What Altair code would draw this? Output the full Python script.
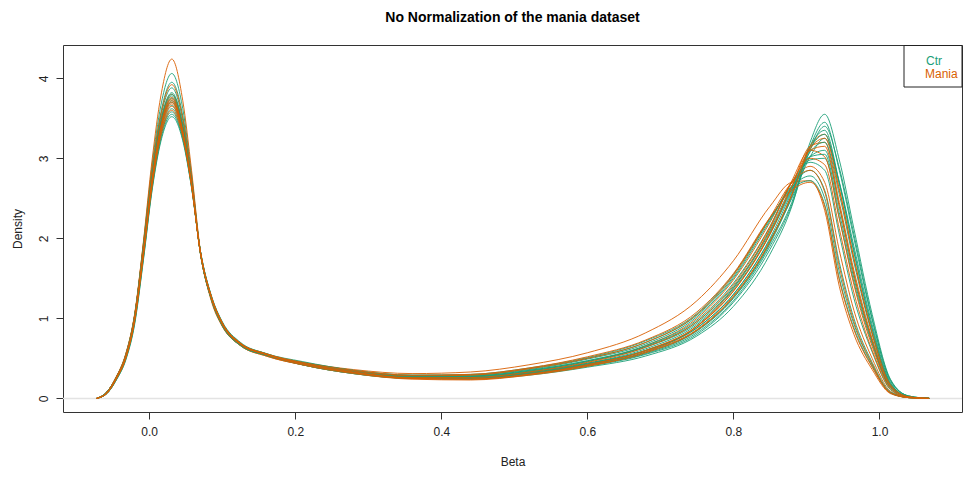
import altair as alt
import pandas as pd

BETA_GRID = [-0.072, -0.058, -0.045, -0.032, -0.02, -0.008, 0.004, 0.016, 0.031, 0.046,
             0.058, 0.07, 0.085, 0.10, 0.125, 0.16,
             0.21, 0.28, 0.36, 0.44, 0.52, 0.60, 0.68, 0.75, 0.80, 0.85, 0.88,
             0.905, 0.925, 0.945, 0.965, 0.99, 1.015, 1.04, 1.068]

CTR_DENSITY = [
    [0.00, 0.07, 0.25, 0.53, 1.02, 1.92, 2.92, 3.66, 4.06, 3.62, 2.80, 1.84, 1.24, 0.91, 0.67, 0.54,
     0.42, 0.31, 0.25, 0.25, 0.31, 0.41, 0.56, 0.82, 1.22, 1.90, 2.45,
     3.15, 3.45, 2.85, 2.00, 0.98, 0.22, 0.03, 0.00],
    [0.00, 0.07, 0.25, 0.52, 1.01, 1.90, 2.86, 3.57, 3.95, 3.53, 2.76, 1.83, 1.25, 0.92, 0.67, 0.54,
     0.42, 0.31, 0.25, 0.24, 0.29, 0.39, 0.53, 0.78, 1.15, 1.80, 2.40,
     3.20, 3.55, 2.98, 2.12, 1.05, 0.24, 0.03, 0.00],
    [0.00, 0.07, 0.26, 0.53, 1.01, 1.89, 2.82, 3.52, 3.88, 3.47, 2.74, 1.83, 1.25, 0.92, 0.67, 0.54,
     0.44, 0.34, 0.28, 0.29, 0.36, 0.49, 0.68, 1.02, 1.50, 2.22, 2.66,
     2.85, 2.60, 1.70, 1.00, 0.45, 0.08, 0.01, 0.00],
    [0.00, 0.08, 0.26, 0.54, 1.02, 1.88, 2.80, 3.47, 3.82, 3.42, 2.72, 1.83, 1.25, 0.92, 0.67, 0.54,
     0.43, 0.32, 0.26, 0.26, 0.32, 0.42, 0.58, 0.85, 1.26, 1.95, 2.55,
     3.15, 3.35, 2.70, 1.85, 0.88, 0.19, 0.02, 0.00],
    [0.00, 0.07, 0.25, 0.53, 1.01, 1.87, 2.78, 3.44, 3.78, 3.39, 2.70, 1.83, 1.26, 0.93, 0.68, 0.55,
     0.44, 0.34, 0.28, 0.28, 0.35, 0.47, 0.65, 0.96, 1.40, 2.10, 2.65,
     2.98, 3.00, 2.25, 1.45, 0.68, 0.14, 0.02, 0.00],
    [0.00, 0.07, 0.26, 0.53, 1.01, 1.86, 2.77, 3.42, 3.75, 3.37, 2.70, 1.82, 1.25, 0.92, 0.67, 0.54,
     0.43, 0.32, 0.26, 0.26, 0.32, 0.43, 0.60, 0.88, 1.30, 1.98, 2.50,
     3.02, 3.25, 2.70, 1.90, 0.92, 0.20, 0.02, 0.00],
    [0.00, 0.07, 0.25, 0.52, 1.00, 1.85, 2.75, 3.40, 3.72, 3.35, 2.69, 1.82, 1.25, 0.92, 0.67, 0.54,
     0.45, 0.35, 0.29, 0.30, 0.38, 0.51, 0.72, 1.06, 1.55, 2.25, 2.62,
     2.72, 2.42, 1.50, 0.88, 0.40, 0.07, 0.01, 0.00],
    [0.00, 0.08, 0.27, 0.55, 1.03, 1.86, 2.75, 3.38, 3.70, 3.34, 2.68, 1.83, 1.26, 0.93, 0.68, 0.55,
     0.44, 0.33, 0.27, 0.27, 0.33, 0.44, 0.62, 0.92, 1.36, 2.05, 2.60,
     3.02, 3.10, 2.40, 1.55, 0.72, 0.15, 0.02, 0.00],
    [0.00, 0.07, 0.25, 0.52, 0.98, 1.80, 2.70, 3.34, 3.66, 3.31, 2.67, 1.84, 1.27, 0.94, 0.68, 0.55,
     0.42, 0.31, 0.25, 0.25, 0.30, 0.40, 0.55, 0.80, 1.20, 1.86, 2.42,
     3.10, 3.40, 2.88, 2.05, 1.00, 0.23, 0.03, 0.00],
    [0.00, 0.07, 0.25, 0.51, 0.97, 1.78, 2.67, 3.30, 3.62, 3.29, 2.66, 1.84, 1.27, 0.94, 0.69, 0.55,
     0.45, 0.34, 0.28, 0.28, 0.35, 0.47, 0.66, 0.98, 1.44, 2.15, 2.70,
     2.95, 2.85, 2.05, 1.25, 0.58, 0.11, 0.01, 0.00],
    [0.00, 0.06, 0.24, 0.50, 0.95, 1.76, 2.64, 3.27, 3.58, 3.26, 2.65, 1.85, 1.28, 0.95, 0.69, 0.56,
     0.44, 0.33, 0.27, 0.27, 0.33, 0.44, 0.60, 0.88, 1.30, 2.00, 2.58,
     3.08, 3.20, 2.55, 1.70, 0.80, 0.17, 0.02, 0.00],
    [0.00, 0.06, 0.23, 0.49, 0.94, 1.74, 2.62, 3.24, 3.55, 3.24, 2.64, 1.85, 1.28, 0.95, 0.69, 0.56,
     0.46, 0.35, 0.29, 0.29, 0.37, 0.50, 0.70, 1.04, 1.52, 2.24, 2.64,
     2.78, 2.50, 1.58, 0.93, 0.42, 0.07, 0.01, 0.00],
    [0.00, 0.06, 0.23, 0.48, 0.92, 1.72, 2.60, 3.21, 3.52, 3.22, 2.63, 1.85, 1.29, 0.96, 0.70, 0.56,
     0.43, 0.32, 0.26, 0.26, 0.31, 0.42, 0.57, 0.84, 1.25, 1.93, 2.52,
     3.12, 3.30, 2.68, 1.82, 0.86, 0.18, 0.02, 0.00],
    [0.00, 0.08, 0.26, 0.54, 1.03, 1.89, 2.80, 3.46, 3.80, 3.40, 2.71, 1.82, 1.24, 0.91, 0.66, 0.54,
     0.44, 0.33, 0.27, 0.27, 0.34, 0.46, 0.64, 0.94, 1.38, 2.08, 2.62,
     3.02, 3.05, 2.32, 1.50, 0.70, 0.14, 0.02, 0.00],
]

MANIA_DENSITY = [
    [0.00, 0.06, 0.24, 0.52, 1.02, 1.95, 2.98, 3.78, 4.24, 3.72, 2.85, 1.85, 1.22, 0.90, 0.66, 0.53,
     0.42, 0.32, 0.26, 0.27, 0.34, 0.46, 0.66, 1.00, 1.48, 2.20, 2.70,
     2.90, 2.70, 1.85, 1.10, 0.50, 0.09, 0.01, 0.00],
    [0.00, 0.08, 0.27, 0.56, 1.05, 1.93, 2.86, 3.55, 3.92, 3.50, 2.75, 1.83, 1.24, 0.91, 0.66, 0.53,
     0.42, 0.32, 0.26, 0.26, 0.32, 0.43, 0.59, 0.86, 1.28, 1.96, 2.55,
     3.15, 3.30, 2.62, 1.75, 0.82, 0.17, 0.02, 0.00],
    [0.00, 0.08, 0.27, 0.55, 1.04, 1.90, 2.81, 3.47, 3.80, 3.40, 2.70, 1.82, 1.24, 0.91, 0.66, 0.54,
     0.45, 0.36, 0.31, 0.33, 0.42, 0.57, 0.82, 1.22, 1.72, 2.40, 2.70,
     2.72, 2.35, 1.40, 0.80, 0.36, 0.06, 0.01, 0.00],
    [0.00, 0.07, 0.26, 0.54, 1.03, 1.88, 2.79, 3.44, 3.76, 3.38, 2.70, 1.83, 1.25, 0.92, 0.67, 0.54,
     0.43, 0.32, 0.25, 0.25, 0.31, 0.42, 0.60, 0.90, 1.34, 2.05, 2.65,
     3.15, 3.20, 2.45, 1.60, 0.75, 0.16, 0.02, 0.00],
    [0.00, 0.07, 0.25, 0.53, 1.01, 1.86, 2.77, 3.42, 3.74, 3.36, 2.70, 1.83, 1.26, 0.93, 0.68, 0.55,
     0.42, 0.31, 0.24, 0.23, 0.29, 0.40, 0.58, 0.90, 1.38, 2.12, 2.72,
     3.10, 3.02, 2.25, 1.42, 0.65, 0.13, 0.01, 0.00],
    [0.00, 0.08, 0.27, 0.55, 1.03, 1.87, 2.76, 3.40, 3.72, 3.34, 2.68, 1.82, 1.26, 0.93, 0.68, 0.55,
     0.44, 0.34, 0.28, 0.29, 0.37, 0.50, 0.70, 1.05, 1.54, 2.26, 2.70,
     2.85, 2.58, 1.65, 0.96, 0.43, 0.07, 0.01, 0.00],
    [0.00, 0.07, 0.25, 0.52, 0.99, 1.83, 2.73, 3.38, 3.70, 3.33, 2.68, 1.84, 1.27, 0.94, 0.68, 0.55,
     0.43, 0.32, 0.25, 0.24, 0.30, 0.41, 0.57, 0.85, 1.27, 1.96, 2.54,
     3.12, 3.25, 2.60, 1.75, 0.82, 0.17, 0.02, 0.00],
    [0.00, 0.07, 0.26, 0.53, 1.00, 1.83, 2.72, 3.36, 3.68, 3.32, 2.67, 1.83, 1.26, 0.93, 0.68, 0.55,
     0.44, 0.33, 0.26, 0.26, 0.33, 0.45, 0.64, 0.96, 1.42, 2.14, 2.70,
     3.00, 2.92, 2.12, 1.32, 0.60, 0.12, 0.01, 0.00],
    [0.00, 0.07, 0.25, 0.51, 0.97, 1.79, 2.68, 3.32, 3.65, 3.30, 2.67, 1.84, 1.27, 0.94, 0.69, 0.55,
     0.43, 0.32, 0.25, 0.24, 0.30, 0.42, 0.60, 0.90, 1.34, 2.06, 2.65,
     3.10, 3.15, 2.40, 1.55, 0.72, 0.15, 0.02, 0.00],
    [0.00, 0.06, 0.24, 0.50, 0.96, 1.77, 2.65, 3.28, 3.60, 3.27, 2.65, 1.84, 1.28, 0.95, 0.69, 0.56,
     0.45, 0.35, 0.29, 0.30, 0.38, 0.52, 0.73, 1.08, 1.56, 2.26, 2.60,
     2.70, 2.40, 1.48, 0.86, 0.39, 0.07, 0.01, 0.00],
]

GROUPS = ["Ctr", "Mania"]
GROUP_COLORS = ["#1B9E77", "#D95F02"]
X_TICKS = [0.0, 0.2, 0.4, 0.6, 0.8, 1.0]
Y_TICKS = [0, 1, 2, 3, 4]
TITLE = "No Normalization of the mania dataset"
X_TITLE = "Beta"
Y_TITLE = "Density"

# interleave samples of the two groups (drawing order)
curves = []
ci, mi = 0, 0
while ci < len(CTR_DENSITY) or mi < len(MANIA_DENSITY):
    for _ in range(2):
        if ci < len(CTR_DENSITY):
            curves.append(("Ctr", f"C{ci+1:02d}", CTR_DENSITY[ci]))
            ci += 1
    if mi < len(MANIA_DENSITY):
        curves.append(("Mania", f"M{mi+1:02d}", MANIA_DENSITY[mi]))
        mi += 1

rows = []
for k, (grp, sid, ys) in enumerate(curves):
    for xv, yv in zip(BETA_GRID, ys):
        rows.append({"beta": xv, "density": yv, "group": grp, "sample": f"{k:02d}_{sid}"})
df = pd.DataFrame(rows)

FONT = "Liberation Sans"

x_scale = alt.Scale(domain=[-0.118, 1.113], nice=False, zero=False)
y_scale = alt.Scale(domain=[-0.17, 4.416], nice=False, zero=False)

zero_line = alt.Chart(pd.DataFrame({"y": [0]})).mark_rule(
    color="#E3E3E3", strokeWidth=1.5
).encode(y=alt.Y("y:Q", scale=y_scale))

lines = alt.Chart(df).mark_line(
    strokeWidth=1, interpolate="monotone", opacity=0.9
).encode(
    x=alt.X("beta:Q", scale=x_scale, title=X_TITLE,
            axis=alt.Axis(values=X_TICKS, format=".1f", tickSize=7, labelPadding=7,
                          titlePadding=19, grid=False, domain=False)),
    y=alt.Y("density:Q", scale=y_scale, title=Y_TITLE,
            axis=alt.Axis(values=Y_TICKS, format="d", tickSize=7, labelPadding=6,
                          labelAngle=270, labelAlign="center", labelBaseline="bottom",
                          titlePadding=13, grid=False, domain=False)),
    color=alt.Color("group:N", scale=alt.Scale(domain=GROUPS, range=GROUP_COLORS), legend=None),
    detail="sample:N",
)

one = pd.DataFrame({"a": [0]})
legend_box = alt.Chart(one).mark_rect(
    fill="white", stroke="#222222", strokeWidth=1
).encode(x=alt.value(841), x2=alt.value(899), y=alt.value(0.5), y2=alt.value(42))

legend_ctr = alt.Chart(one).mark_text(
    align="left", baseline="middle", fontSize=12, font=FONT
).encode(x=alt.value(863), y=alt.value(15.5), text=alt.value(GROUPS[0]),
         color=alt.value(GROUP_COLORS[0]))

legend_mania = alt.Chart(one).mark_text(
    align="left", baseline="middle", fontSize=12, font=FONT
).encode(x=alt.value(862), y=alt.value(29), text=alt.value(GROUPS[1]),
         color=alt.value(GROUP_COLORS[1]))

chart = alt.layer(zero_line, lines, legend_box, legend_ctr, legend_mania).properties(
    width=899, height=367,
    title=alt.TitleParams(TITLE, fontSize=14, font=FONT, fontWeight="bold",
                          color="#000000", anchor="middle", offset=20),
    autosize=alt.AutoSizeParams(type="none"),
    padding={"left": 63, "top": 45, "right": 2, "bottom": 69},
).configure_view(
    stroke="#333333", strokeWidth=1
).configure_axis(
    labelFont=FONT, titleFont=FONT, labelFontSize=12, titleFontSize=12,
    labelColor="#222222", titleColor="#222222", tickColor="#333333",
    titleFontWeight="normal"
)

chart.save("out.html", embed_options={"renderer": "svg", "actions": False})
